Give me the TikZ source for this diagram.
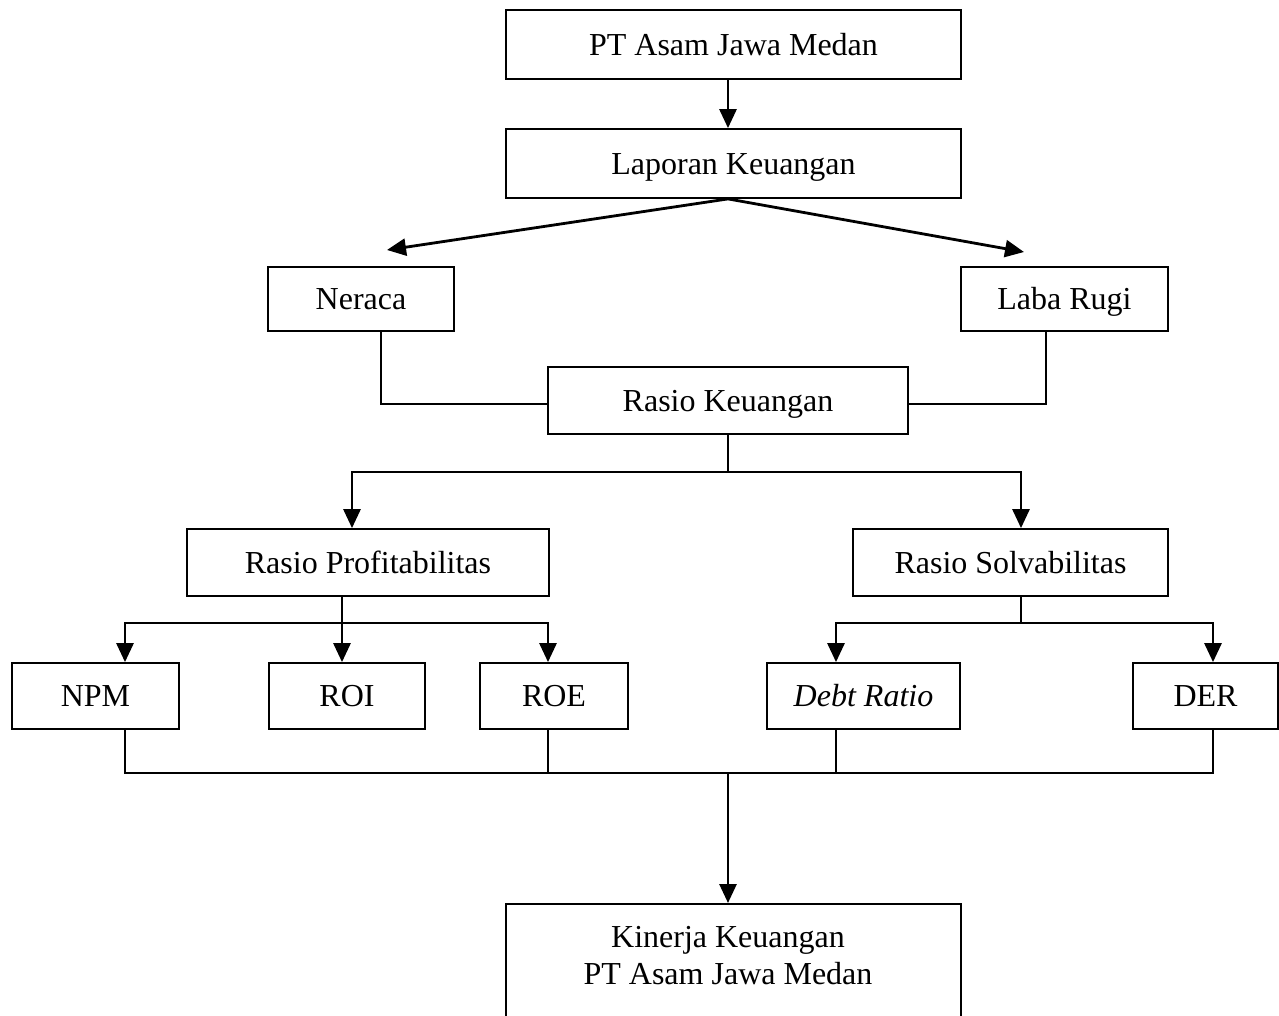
\documentclass[tikz,border=0pt]{standalone}
\usepackage{fontspec}
\setmainfont{Liberation Serif}
\usetikzlibrary{arrows.meta}
\begin{document}
\begin{tikzpicture}[x=1pt,y=-1pt,
  box/.style={draw,line width=1.8pt,inner sep=0pt,align=center,font=\fontsize{32}{37}\selectfont,text height=23pt,text depth=2pt},
  arr/.style={line width=2.8pt,-{Triangle[width=17pt,length=19pt]}},
  ln/.style={line width=1.8pt}]
\useasboundingbox (0,0) rectangle (1279,1015);
% boxes
\node[box,minimum width=455pt,minimum height=69pt] (top) at (733.5,44.5) {PT Asam Jawa Medan};
\node[box,minimum width=455pt,minimum height=69pt] (lap) at (733.5,163.5) {Laporan Keuangan};
\node[box,minimum width=186pt,minimum height=64pt] (ner) at (361,299) {Neraca};
\node[box,minimum width=207pt,minimum height=64pt] (lab) at (1064.5,299) {Laba Rugi};
\node[box,minimum width=360pt,minimum height=67pt] (rk) at (728,400.5) {Rasio Keuangan};
\node[box,minimum width=362pt,minimum height=67pt] (prof) at (368,562.5) {Rasio Profitabilitas};
\node[box,minimum width=315pt,minimum height=67pt] (solv) at (1010.5,562.5) {Rasio Solvabilitas};
\node[box,minimum width=167pt,minimum height=66pt] (npm) at (95.5,696) {NPM};
\node[box,minimum width=156pt,minimum height=66pt] (roi) at (347,696) {ROI};
\node[box,minimum width=148pt,minimum height=66pt] (roe) at (554,696) {ROE};
\node[box,minimum width=193pt,minimum height=66pt] (debt) at (863.5,696) {\itshape Debt Ratio};
\node[box,minimum width=145pt,minimum height=66pt] (der) at (1205.5,696) {DER};
\node[draw,line width=1.8pt,minimum width=455pt,minimum height=130pt,anchor=north,inner sep=0pt] (kin) at (733.5,903) {};
\node[font=\fontsize{32}{37}\selectfont,align=center,inner sep=0pt] (kintext) at (728,956) {Kinerja Keuangan\\PT Asam Jawa Medan};
% helper coordinates
\coordinate (cx) at (728,0);
\coordinate (lt) at (387,250);
\coordinate (rt) at (1024,252);
\coordinate (xn) at (381,0);
\coordinate (xl) at (1046,0);
\coordinate (yr) at (0,404);
\coordinate (y1) at (0,472);
\coordinate (xp) at (352,0);
\coordinate (xs) at (1021,0);
\coordinate (xpb) at (342,0);
\coordinate (y2) at (0,623);
\coordinate (xa) at (125,0);
\coordinate (xb) at (342,0);
\coordinate (xc) at (548,0);
\coordinate (xd) at (836,0);
\coordinate (xe) at (1213,0);
\coordinate (y3) at (0,773);
% connectors
\draw[arr] (top.south -| cx) -- (lap.north -| cx);
\draw[arr] (lap.south -| cx) -- (lt);
\draw[arr] (lap.south -| cx) -- (rt);
\draw[ln] (ner.south -| xn) -- (xn |- yr) -- (rk.west |- yr);
\draw[ln] (lab.south -| xl) -- (xl |- yr) -- (rk.east |- yr);
\draw[ln] (rk.south -| cx) -- (cx |- y1);
\draw[arr] (cx |- y1) -| (prof.north -| xp);
\draw[arr] (cx |- y1) -| (solv.north -| xs);
\draw[ln] (prof.south -| xpb) -- (xpb |- y2);
\draw[arr] (xpb |- y2) -| (npm.north -| xa);
\draw[arr] (xpb |- y2) -- (roi.north -| xb);
\draw[arr] (xpb |- y2) -| (roe.north -| xc);
\draw[ln] (solv.south -| xs) -- (xs |- y2);
\draw[arr] (xs |- y2) -| (debt.north -| xd);
\draw[arr] (xs |- y2) -| (der.north -| xe);
\draw[ln] (npm.south -| xa) -- (xa |- y3) -- (xe |- y3) -- (der.south -| xe);
\draw[ln] (roe.south -| xc) -- (xc |- y3);
\draw[ln] (debt.south -| xd) -- (xd |- y3);
\draw[arr] (cx |- y3) -- (kin.north -| cx);
\end{tikzpicture}
\end{document}
